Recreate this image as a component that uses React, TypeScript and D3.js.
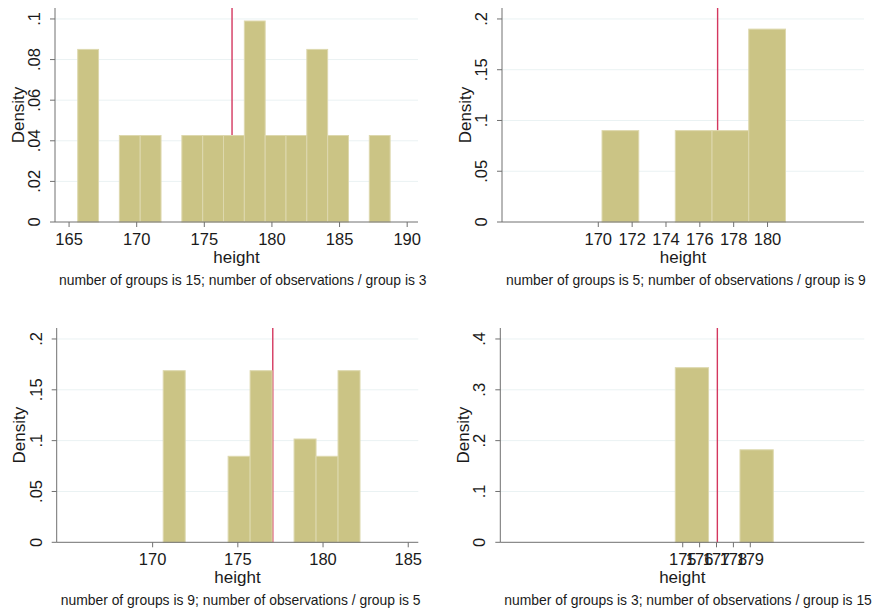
import React from "react";
import * as d3 from "d3";

// histogram bins: left edge of each bar and its density
const p1Lefts = [165.64, 168.72, 170.26, 173.34, 174.88, 176.42, 177.96, 179.5, 181.04, 182.58, 184.12, 187.2];
const p1Dens = [0.085, 0.0426, 0.0426, 0.0426, 0.0426, 0.0426, 0.099, 0.0426, 0.0426, 0.085, 0.0426, 0.0426];
const p2Lefts = [170.22, 174.55, 176.72, 178.89];
const p2Dens = [0.09, 0.09, 0.09, 0.19];
const p3Lefts = [170.62, 174.43, 175.72, 178.3, 179.59, 180.88];
const p3Dens = [0.1688, 0.0846, 0.1688, 0.1016, 0.0846, 0.1688];
const p4Lefts = [174.56, 178.39];
const p4Dens = [0.3435, 0.182];

const binWidths = [1.54, 2.17, 1.29, 1.97];
const xTicks = [
  [165, 170, 175, 180, 185, 190],
  [170, 172, 174, 176, 178, 180],
  [170, 175, 180, 185],
  [175, 176, 177, 178, 179],
];
const yTicks = [
  [0, 0.02, 0.04, 0.06, 0.08, 0.1],
  [0, 0.05, 0.1, 0.15, 0.2],
  [0, 0.05, 0.1, 0.15, 0.2],
  [0, 0.1, 0.2, 0.3, 0.4],
];
const xDomains = [[163.96, 190.8], [164.31, 185.7], [164.37, 185.59], [164.2, 185.75]];
const yMax = [0.1054, 0.2108, 0.2108, 0.4216];
const notes = [
  "number of groups is 15; number of observations / group is 3",
  "number of groups is 5; number of observations / group is 9",
  "number of groups is 9; number of observations / group is 5",
  "number of groups is 3; number of observations / group is 15",
];
const meanHeight = 177.05;

const boxes = [
  { left: 55, right: 418, top: 8, bottom: 222 },
  { left: 502, right: 864, top: 8, bottom: 222 },
  { left: 56.7, right: 418.3, top: 328, bottom: 542.3 },
  { left: 500.3, right: 864.3, top: 328, bottom: 542.3 },
];

const FONT = "'Liberation Sans', Arial, sans-serif";
const fmtY = (v: number) => (v === 0 ? "0" : d3.format("")(v).replace(/^0\./, "."));

function Panel({ i, lefts, dens }: { i: number; lefts: number[]; dens: number[] }) {
  const b = boxes[i];
  const x = d3.scaleLinear().domain(xDomains[i]).range([b.left, b.right]);
  const y = d3.scaleLinear().domain([0, yMax[i]]).range([b.bottom, b.top]);
  const w = binWidths[i];
  const axisCol = "#707070";
  return (
    <g>
      {yTicks[i].filter((t) => t > 0).map((t) => (
        <line key={"g" + t} x1={b.left} x2={b.right} y1={y(t)} y2={y(t)} stroke="#eaf2f3" strokeWidth={1} />
      ))}
      <line x1={x(meanHeight)} x2={x(meanHeight)} y1={y(yMax[i])} y2={y(0)} stroke="#d4375f" strokeWidth={1.4} />
      {lefts.map((l, k) => (
        <rect
          key={k}
          x={x(l)}
          width={x(l + w) - x(l)}
          y={y(dens[k])}
          height={y(0) - y(dens[k])}
          fill="#cbc485"
          stroke="#ddd8ae"
          strokeWidth={1}
        />
      ))}
      <line x1={b.left} x2={b.left} y1={b.top} y2={b.bottom} stroke={axisCol} strokeWidth={1} />
      <line x1={b.left} x2={b.right} y1={b.bottom} y2={b.bottom} stroke={axisCol} strokeWidth={1} />
      {yTicks[i].map((t) => (
        <g key={"y" + t}>
          <line x1={b.left - 5} x2={b.left} y1={y(t)} y2={y(t)} stroke={axisCol} />
          <text
            transform={`translate(${b.left - 15},${y(t)}) rotate(-90)`}
            textAnchor="middle"
            fontSize={16.5}
            fill="#1a1a1a"
          >
            {fmtY(t)}
          </text>
        </g>
      ))}
      {xTicks[i].map((t) => (
        <g key={"x" + t}>
          <line x1={x(t)} x2={x(t)} y1={b.bottom} y2={b.bottom + 5} stroke={axisCol} />
          <text x={x(t)} y={b.bottom + 23} textAnchor="middle" fontSize={16.5} fill="#1a1a1a">
            {t}
          </text>
        </g>
      ))}
      <text
        transform={`translate(${b.left - 31.5},${(b.top + b.bottom) / 2}) rotate(-90)`}
        textAnchor="middle"
        fontSize={17}
        fill="#1a1a1a"
      >
        Density
      </text>
      <text x={(b.left + b.right) / 2} y={b.bottom + 41} textAnchor="middle" fontSize={17} fill="#1a1a1a">
        height
      </text>
      <text x={b.left + 4} y={b.bottom + 63} fontSize={13.9} fill="#1a1a1a">
        {notes[i]}
      </text>
    </g>
  );
}

export default function App() {
  return (
    <div style={{ position: "absolute", left: 0, top: 0 }}>
      <svg width={873} height={609} style={{ display: "block", background: "#fff", fontFamily: FONT }}>
        <Panel i={0} lefts={p1Lefts} dens={p1Dens} />
        <Panel i={1} lefts={p2Lefts} dens={p2Dens} />
        <Panel i={2} lefts={p3Lefts} dens={p3Dens} />
        <Panel i={3} lefts={p4Lefts} dens={p4Dens} />
      </svg>
    </div>
  );
}
